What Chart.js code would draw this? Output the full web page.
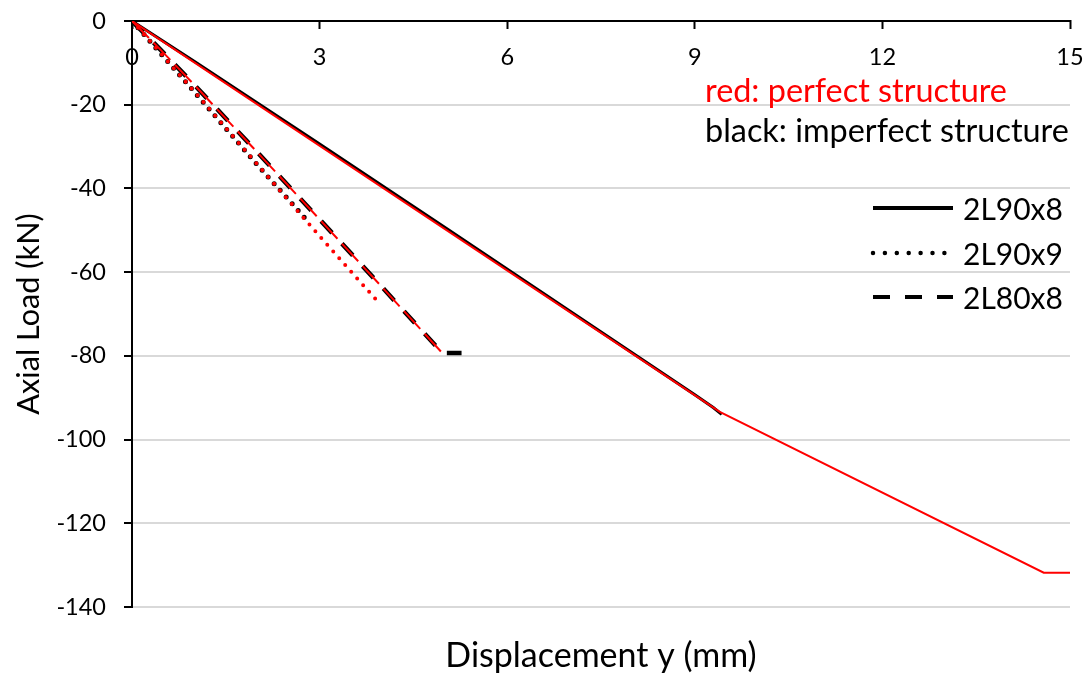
<!DOCTYPE html>
<html>
<head>
<meta charset="utf-8">
<script src="https://cdn.jsdelivr.net/npm/chart.js@4"></script>
<style>
  body { margin: 0; background: #fff; }
</style>
</head>
<body>
<canvas id="loadChart" width="1091" height="680"></canvas>
<script>
// displacement y (mm) and axial load (kN), one pair of arrays per curve
const x90x8Perfect = [0, 9.4, 14.58, 15.05];
const y90x8Perfect = [0, -93.4, -131.8, -131.8];
const x90x8Imperfect = [0, 1, 3, 5, 7, 9, 9.3, 9.43];
const y90x8Imperfect = [0, -9.65, -29.4, -49.3, -69.3, -89.3, -92.4, -94.0];

const x90x9Perfect = [0, 0.3, 1, 2, 3, 3.94];
const y90x9Perfect = [0, -5.0, -16.9, -34.2, -51.4, -67.2];
const x90x9Imperfect = [0, 0.15, 1, 2, 2.84];
const y90x9Imperfect = [0, -2.5, -17.0, -34.3, -48.3];

const x80x8Perfect = [0, 0.4, 1, 2, 3, 4, 4.96];
const y80x8Perfect = [0, -6.0, -15.3, -31.3, -47.4, -63.6, -79.3];
const x80x8Imperfect = [0, 0.4, 1, 2, 3, 4, 4.96, 5.27];
const y80x8Imperfect = [0, -6.0, -15.3, -31.3, -47.4, -63.6, -79.3, -79.3];

const sections = ['2L90x8', '2L90x9', '2L80x8'];
const xTicks = [0, 3, 6, 9, 12, 15];
const yTicks = [0, -20, -40, -60, -80, -100, -120, -140];

const FONT = 'Lato';

function pts(xs, ys) {
    return xs.map((x, i) => ({x: x, y: ys[i]}));
}

// keep the plot box fixed, labels may hang over its edges
function fixBox(scale, w, h) {
    if (w) scale.width = w;
    if (h) scale.height = h;
    scale.paddingLeft = 0;
    scale.paddingRight = 0;
    scale.paddingTop = 0;
    scale.paddingBottom = 0;
}

// red curves first so they end up drawn over the black ones
const datasets = [{
    label: '2L90x8 perfect',
    data: pts(x90x8Perfect, y90x8Perfect),
    borderColor: '#ff0000',
    borderWidth: 2,
}, {
    label: '2L90x9 perfect',
    data: pts(x90x9Perfect, y90x9Perfect),
    borderColor: '#ff0000',
    borderWidth: 4,
    borderDash: [0, 9],
    borderCapStyle: 'round',
}, {
    label: '2L80x8 perfect',
    data: pts(x80x8Perfect, y80x8Perfect),
    borderColor: '#ff0000',
    borderWidth: 2,
    borderDash: [24, 6.6],
}, {
    label: '2L90x8',
    data: pts(x90x8Imperfect, y90x8Imperfect),
    borderColor: '#000000',
    borderWidth: 3,
}, {
    label: '2L90x9',
    data: pts(x90x9Imperfect, y90x9Imperfect),
    borderColor: '#000000',
    borderWidth: 5,
    borderDash: [0, 9],
    borderCapStyle: 'round',
}, {
    label: '2L80x8',
    data: pts(x80x8Imperfect, y80x8Imperfect),
    borderColor: '#000000',
    borderWidth: 4.5,
    borderDash: [16, 14.6],
}];

datasets.forEach(d => {
    d.showLine = true;
    d.pointRadius = 0;
    d.fill = false;
    d.tension = 0;
});

// colour notes, section legend and the bottom axis title
const notes = {
    id: 'notes',
    afterDraw(chart) {
        const ctx = chart.ctx;
        const area = chart.chartArea;
        ctx.save();
        ctx.textBaseline = 'alphabetic';
        ctx.textAlign = 'left';
        ctx.font = '32.4px ' + FONT;
        ctx.fillStyle = '#ff0000';
        ctx.fillText('red: perfect structure', 705, 101.5);
        ctx.fillStyle = '#000000';
        ctx.fillText('black: imperfect structure', 705, 141.5);

        ctx.font = '30px ' + FONT;
        const rows = [208, 253, 297];
        const dashes = [[], [0, 11.9], [17, 15]];
        rows.forEach((y, i) => {
            ctx.beginPath();
            ctx.strokeStyle = '#000000';
            ctx.lineWidth = i === 1 ? 4.5 : 4;
            ctx.lineCap = i === 1 ? 'round' : 'butt';
            ctx.setLineDash(dashes[i]);
            ctx.moveTo(873, y);
            ctx.lineTo(953, y);
            ctx.stroke();
            ctx.setLineDash([]);
            ctx.fillText(sections[i], 963, y + 11.5);
        });

        ctx.font = '34px ' + FONT;
        ctx.textAlign = 'center';
        ctx.fillText('Displacement y (mm)', (area.left + area.right) / 2, 667);
        ctx.restore();
    }
};

const config = {
    type: 'scatter',
    data: {datasets: datasets},
    options: {
        responsive: false,
        animation: false,
        layout: {
            autoPadding: false,
            padding: {left: 0, right: 21, top: 0, bottom: 73}
        },
        scales: {
            x: {
                type: 'linear',
                position: 'top',
                min: xTicks[0],
                max: xTicks[xTicks.length - 1],
                afterFit: (scale) => fixBox(scale, 0, 21),
                afterBuildTicks: (scale) => { scale.ticks = xTicks.map(v => ({value: v})); },
                border: {color: '#000000', width: 2},
                grid: {
                    drawOnChartArea: false,
                    drawTicks: true,
                    tickLength: -8,
                    tickColor: '#000000',
                    tickWidth: 2,
                },
                ticks: {
                    mirror: true,
                    padding: 22,
                    color: '#000000',
                    font: {family: FONT, size: 23.5},
                }
            },
            y: {
                type: 'linear',
                min: yTicks[yTicks.length - 1],
                max: yTicks[0],
                afterFit: (scale) => fixBox(scale, 132, 0),
                afterBuildTicks: (scale) => { scale.ticks = yTicks.map(v => ({value: v})); },
                border: {color: '#000000', width: 2},
                grid: {
                    color: '#d9d9d9',
                    lineWidth: 2,
                    tickLength: 8,
                    tickColor: '#000000',
                    tickWidth: 2,
                },
                ticks: {
                    padding: 18,
                    color: '#000000',
                    font: {family: FONT, size: 23.5},
                },
                title: {
                    display: true,
                    text: 'Axial Load (kN)',
                    color: '#000000',
                    font: {family: FONT, size: 30.7},
                    padding: {top: 11, bottom: 0},
                }
            }
        },
        plugins: {
            legend: {display: false},
            tooltip: {enabled: false}
        }
    },
    plugins: [notes]
};

const loadChart = new Chart(document.getElementById('loadChart'), config);
</script>
</body>
</html>
